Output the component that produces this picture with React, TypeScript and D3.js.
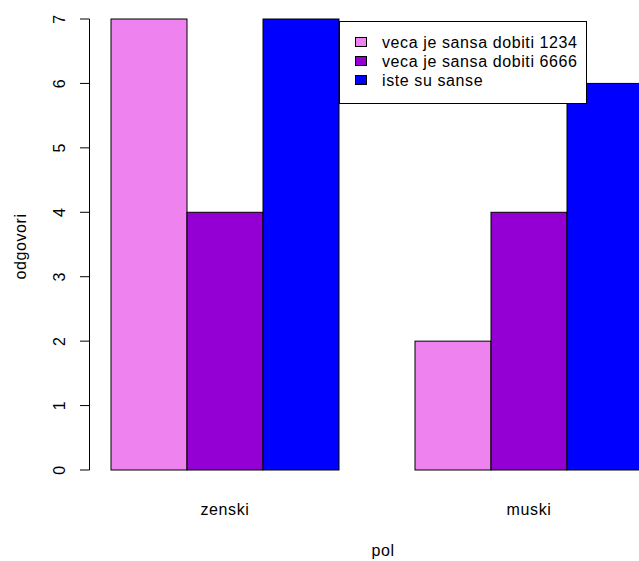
import { useEffect, useRef } from "react";
import * as d3 from "d3";

const groups = ["zenski", "muski"];
const series = ["veca je sansa dobiti 1234", "veca je sansa dobiti 6666", "iste su sanse"];
const colors = ["#EE82EE", "#9400D3", "#0000FF"];
const values = [
  [7, 4, 7], // zenski
  [2, 4, 6], // muski
];
const yTicks = [0, 1, 2, 3, 4, 5, 6, 7];

export default function App() {
  const svgRef = useRef(null);
  const width = 639;
  const height = 561;

  useEffect(() => {
    const svg = d3.select(svgRef.current);
    svg.selectAll("*").remove();
    svg.style("font-family", "Liberation Sans, Arial, sans-serif")
      .style("font-size", "16px")
      .style("letter-spacing", "0.6px");

    // barplot units: width 1 per bar, 1 unit gap between groups
    const x = d3.scaleLinear().domain([0, 8]).range([35, 643]);
    const y = d3.scaleLinear().domain([0, 7]).range([470, 19]);

    values.forEach((row, gi) => {
      row.forEach((v, si) => {
        const left = 1 + gi * 4 + si;
        svg.append("rect")
          .attr("x", x(left))
          .attr("y", y(v))
          .attr("width", x(left + 1) - x(left))
          .attr("height", y(0) - y(v))
          .attr("fill", colors[si])
          .attr("stroke", "#000")
          .attr("stroke-width", 1);
      });
      svg.append("text")
        .attr("x", x(1 + gi * 4 + 1.5))
        .attr("y", 515)
        .attr("text-anchor", "middle")
        .text(groups[gi]);
    });

    // y axis
    const axis = svg.append("g");
    axis.append("line")
      .attr("x1", 89.5).attr("x2", 89.5)
      .attr("y1", y(0)).attr("y2", y(7))
      .attr("stroke", "#000");
    yTicks.forEach(t => {
      axis.append("line")
        .attr("x1", 80).attr("x2", 89.5)
        .attr("y1", y(t)).attr("y2", y(t))
        .attr("stroke", "#000");
      axis.append("text")
        .attr("transform", `translate(65, ${y(t)}) rotate(-90)`)
        .attr("text-anchor", "middle")
        .text(t);
    });

    svg.append("text")
      .attr("transform", `translate(25.5, 246.5) rotate(-90)`)
      .attr("text-anchor", "middle")
      .text("odgovori");

    svg.append("text")
      .attr("x", 383)
      .attr("y", 556)
      .attr("text-anchor", "middle")
      .text("pol");

    // legend
    const lg = svg.append("g");
    lg.append("rect")
      .attr("x", 339.5).attr("y", 21.5)
      .attr("width", 247).attr("height", 82)
      .attr("fill", "#fff").attr("stroke", "#000");
    series.forEach((s, i) => {
      const cy = 42 + i * 19;
      lg.append("rect")
        .attr("x", 355.5).attr("y", cy - 4.5)
        .attr("width", 11).attr("height", 9)
        .attr("fill", colors[i]).attr("stroke", "#000");
      lg.append("text")
        .attr("x", 382)
        .attr("y", cy + 5.5)
        .text(s);
    });
  }, []);

  return (
    <div style={{ position: "fixed", left: 0, top: 0, background: "#fff" }}>
      <svg ref={svgRef} width={width} height={height} style={{ display: "block" }}></svg>
    </div>
  );
}
